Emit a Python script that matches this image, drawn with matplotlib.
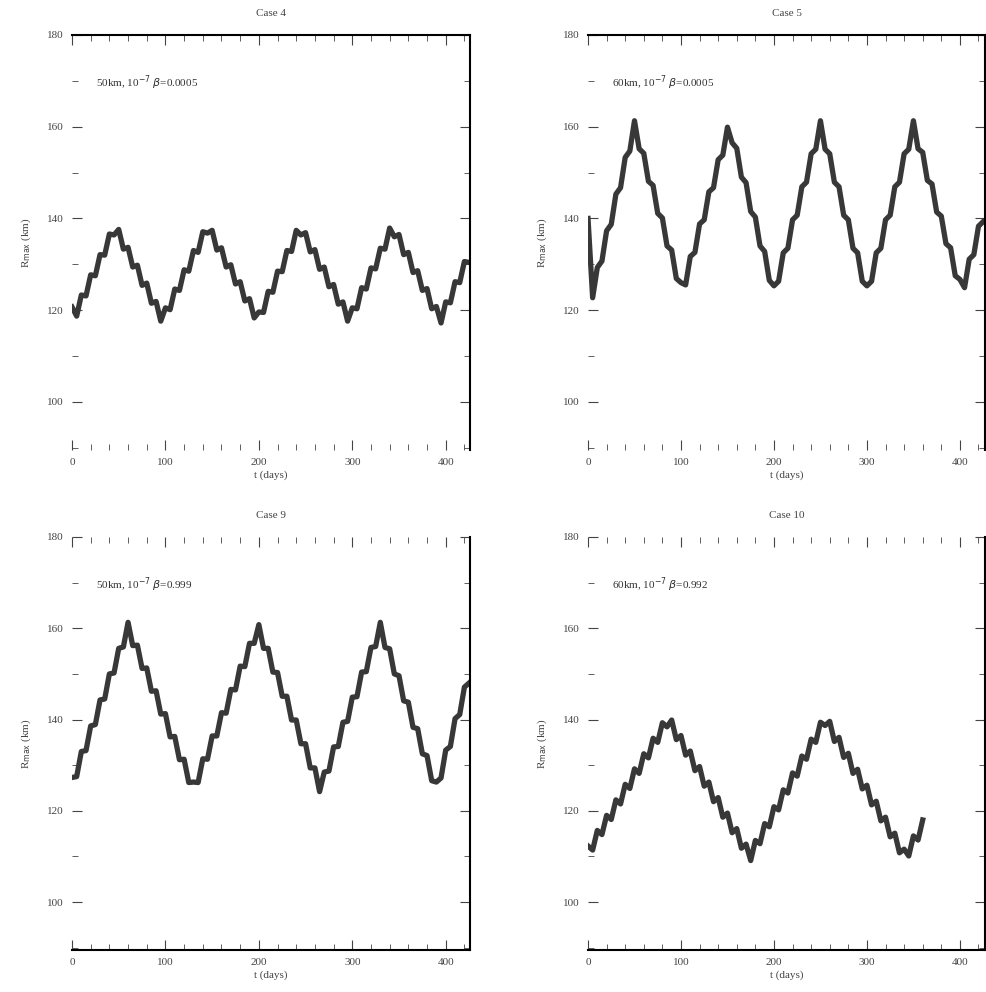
import numpy as np
import matplotlib
matplotlib.use("Agg")
import matplotlib.pyplot as plt
from matplotlib.ticker import MultipleLocator

plt.rcParams['font.family'] = ['Liberation Serif', 'DejaVu Serif']

# --- Daten ---
titles = ["Case 4", "Case 5", "Case 9", "Case 10"]
notes = ["50km, 10$^{-7}$ $\\beta$=0.0005", "60km, 10$^{-7}$ $\\beta$=0.0005",
         "50km, 10$^{-7}$ $\\beta$=0.999", "60km, 10$^{-7}$ $\\beta$=0.992"]

L_a = list(range(0, 426, 5))
R_a = [120.7, 118.7, 123.3, 123.1, 127.7, 127.5, 132.1, 132.0, 136.6, 136.4,
       137.6, 133.3, 133.7, 129.4, 129.8, 125.4, 125.9, 121.5, 121.9, 117.6,
       120.5, 120.1, 124.6, 124.3, 128.8, 128.5, 133.0, 132.6, 137.1, 136.8,
       137.4, 133.1, 133.6, 129.4, 129.9, 125.7, 126.2, 122.0, 122.5, 118.3,
       119.6, 119.5, 124.1, 123.9, 128.5, 128.4, 133.0, 132.8, 137.4, 136.4,
       136.9, 132.7, 133.2, 128.9, 129.4, 125.1, 125.6, 121.3, 121.8, 117.6,
       120.5, 120.3, 124.9, 124.6, 129.2, 129.0, 133.5, 133.3, 137.9, 136.0,
       136.5, 132.1, 132.6, 128.2, 128.6, 124.3, 124.7, 120.3, 120.8, 117.2,
       121.8, 121.6, 126.2, 126.0, 130.6, 130.4]

L_b = list(range(0, 426, 5))
R_b = [140.0, 122.7, 129.3, 130.7, 137.3, 138.7, 145.3, 146.7, 153.3, 154.7,
       161.3, 155.2, 154.2, 148.1, 147.2, 141.1, 140.1, 134.0, 133.1, 126.9,
       126.0, 125.5, 131.7, 132.6, 138.8, 139.7, 145.8, 146.7, 152.8, 153.8,
       159.9, 156.5, 155.3, 149.0, 147.8, 141.5, 140.3, 134.0, 132.8, 126.5,
       125.3, 126.3, 132.5, 133.5, 139.7, 140.7, 146.9, 147.9, 154.1, 155.1,
       161.3, 155.1, 154.1, 147.9, 146.9, 140.7, 139.7, 133.5, 132.5, 126.3,
       125.3, 126.3, 132.5, 133.5, 139.7, 140.7, 146.9, 147.9, 154.1, 155.1,
       161.3, 155.2, 154.4, 148.3, 147.5, 141.4, 140.5, 134.5, 133.6, 127.5,
       126.7, 124.9, 131.1, 132.1, 138.3, 139.3]

L_c = list(range(0, 426, 5))
R_c = [127.3, 127.5, 133.0, 133.2, 138.6, 138.9, 144.3, 144.5, 150.0, 150.2,
       155.6, 155.9, 161.3, 156.2, 156.3, 151.2, 151.3, 146.2, 146.3, 141.2,
       141.3, 136.2, 136.3, 131.2, 131.3, 126.2, 126.3, 126.2, 131.4, 131.3,
       136.4, 136.4, 141.5, 141.4, 146.6, 146.5, 151.7, 151.6, 156.7, 156.7,
       160.8, 155.6, 155.6, 150.4, 150.3, 145.1, 145.1, 139.9, 139.9, 134.7,
       134.7, 129.4, 129.4, 124.2, 128.5, 128.7, 134.0, 134.1, 139.4, 139.6,
       144.9, 145.0, 150.4, 150.5, 155.8, 156.0, 161.3, 155.8, 155.5, 150.0,
       149.6, 144.1, 143.8, 138.3, 138.0, 132.5, 132.1, 126.6, 126.3, 127.2,
       133.3, 134.1, 140.2, 141.1, 147.1, 148.0]

L_d = list(range(0, 361, 5))
R_d = [112.3, 111.4, 115.7, 114.8, 119.0, 118.1, 122.4, 121.5, 125.8, 124.9,
       129.2, 128.2, 132.5, 131.6, 135.9, 135.0, 139.3, 138.4, 139.9, 135.6,
       136.5, 132.2, 133.1, 128.8, 129.7, 125.4, 126.3, 122.0, 122.9, 118.6,
       119.5, 115.2, 116.1, 111.8, 112.7, 109.1, 113.5, 112.8, 117.2, 116.5,
       120.9, 120.2, 124.6, 123.9, 128.3, 127.6, 132.0, 131.3, 135.7, 135.0,
       139.4, 138.7, 139.6, 135.2, 136.1, 131.7, 132.6, 128.2, 129.1, 124.8,
       125.6, 121.3, 122.1, 117.8, 118.6, 114.3, 115.1, 110.8, 111.6, 110.1,
       114.5, 113.6, 118.0]

series = [(L_a, R_a), (L_b, R_b), (L_c, R_c), (L_d, R_d)]
xmax = [426, 427, 426, 427]

fig = plt.figure(figsize=(9.87, 9.92), dpi=100)
W, H = 987.0, 992.0
boxes = [(72, 35, 470, 450), (588, 35, 985, 450),
         (72, 537, 470, 950), (588, 537, 985, 950)]

for i, (x0, y0, x1, y1) in enumerate(boxes):
    ax = fig.add_axes([x0 / W, 1 - y1 / H, (x1 - x0) / W, (y1 - y0) / H])
    L, R = series[i]
    ax.plot(L, R, color='#383838', lw=3.8)
    ax.set_xlim(0, xmax[i])
    ax.set_ylim(89.5, 180)
    ax.xaxis.set_major_locator(MultipleLocator(100))
    ax.xaxis.set_minor_locator(MultipleLocator(20))
    ax.yaxis.set_major_locator(MultipleLocator(20))
    ax.yaxis.set_minor_locator(MultipleLocator(10))
    ax.tick_params(which='both', direction='in', top=True, right=True,
                   labelsize=8, colors='#444444', pad=6)
    ax.tick_params(which='major', length=7)
    ax.tick_params(which='minor', length=4)
    for s in ax.spines.values():
        s.set_linewidth(1.5)
    ax.spines['left'].set_visible(False)
    if i < 2:
        ax.spines['bottom'].set_visible(False)
    else:
        ax.spines['top'].set_visible(False)
    ax.set_title(titles[i], fontsize=8, color='#444444', pad=14)
    ax.set_xlabel("t (days)", fontsize=8, color='#444444', labelpad=2)
    ax.set_ylabel("R$_{\\mathrm{max}}$ (km)", fontsize=8, color='#444444',
                  labelpad=10)
    ax.text(0.06, 0.875, notes[i], transform=ax.transAxes, fontsize=8,
            color='#333333')

fig.savefig("out.png", dpi=100)
